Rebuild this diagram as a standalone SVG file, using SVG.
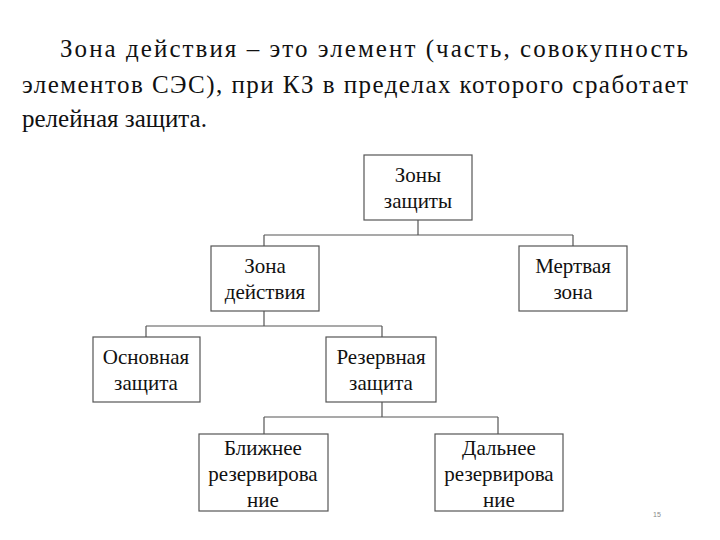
<svg xmlns="http://www.w3.org/2000/svg" width="720" height="540" viewBox="0 0 720 540">
<style>
.b{fill:#fff;stroke:#555;stroke-width:1.2}
.t{font-family:"Liberation Serif",serif;font-size:21px;fill:#111;text-anchor:middle}
.h{font-family:"Liberation Serif",serif;font-size:25px;fill:#111}
.c{fill:none;stroke:#555;stroke-width:1.2}
</style>
<rect width="720" height="540" fill="#fff"/>
<text class="h" x="60" y="57" textLength="628" lengthAdjust="spacing">Зона действия – это элемент (часть, совокупность</text>
<text class="h" x="22" y="93" textLength="666" lengthAdjust="spacing">элементов СЭС), при КЗ в пределах которого сработает</text>
<text class="h" x="22" y="127">релейная защита.</text>
<g id="connectors">
<path class="c" d="M418 220V235M264 235H573M264 235V246M573 235V246"/>
<path class="c" d="M264 311V326M146 326H382M146 326V337M382 326V337"/>
<path class="c" d="M382 402V417M264 417H498M264 417V434M498 417V434"/>
</g>
<g id="n1"><rect class="b" x="364" y="155" width="108" height="65"/><text class="t" x="418" y="182">Зоны</text><text class="t" x="418" y="208">защиты</text></g>
<g id="n2"><rect class="b" x="211" y="246" width="108" height="65"/><text class="t" x="265" y="273">Зона</text><text class="t" x="265" y="299">действия</text></g>
<g id="n3"><rect class="b" x="519" y="246" width="108" height="65"/><text class="t" x="573" y="273">Мертвая</text><text class="t" x="573" y="299">зона</text></g>
<g id="n4"><rect class="b" x="93" y="337" width="107" height="65"/><text class="t" x="146" y="364">Основная</text><text class="t" x="146" y="390">защита</text></g>
<g id="n5"><rect class="b" x="326" y="337" width="110" height="65"/><text class="t" x="381" y="364">Резервная</text><text class="t" x="381" y="390">защита</text></g>
<g id="n6"><rect class="b" x="199" y="434" width="129" height="77"/><text class="t" x="263" y="455">Ближнее</text><text class="t" x="263" y="481">резервирова</text><text class="t" x="263" y="507">ние</text></g>
<g id="n7"><rect class="b" x="435" y="434" width="128" height="77"/><text class="t" x="499" y="455">Дальнее</text><text class="t" x="499" y="481">резервирова</text><text class="t" x="499" y="507">ние</text></g>
<text x="657" y="517" font-family="Liberation Sans,sans-serif" font-size="7" fill="#888" text-anchor="middle">15</text>
</svg>
